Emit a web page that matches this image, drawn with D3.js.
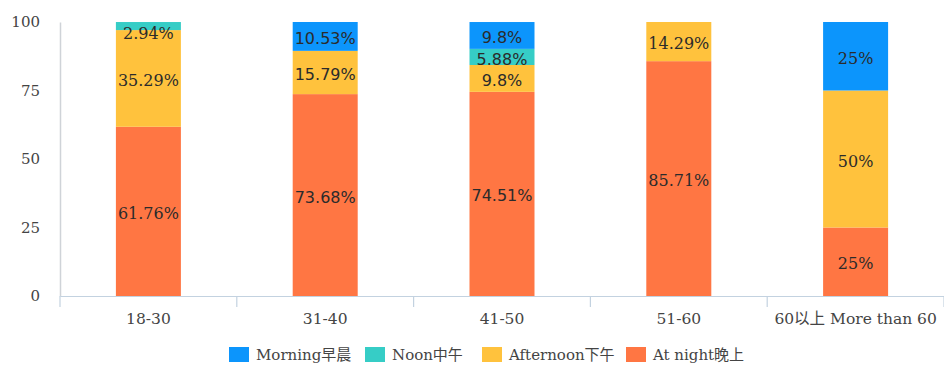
<!DOCTYPE html>
<html>
<head>
<meta charset="utf-8">
<script src="https://cdn.jsdelivr.net/npm/d3@7"></script>
<style>
  html, body { margin: 0; padding: 0; background: #fff; }
  svg { display: block; }
</style>
</head>
<body>
<svg id="chart" width="944" height="365"></svg>
<script>
// Age groups along the x axis
const categories = ["18-30", "31-40", "41-50", "51-60", "60以上 More than 60"];
// Share of respondents (%) for each time of day, per age group
const morning   = [0, 10.53, 9.8, 0, 25];
const noon      = [2.94, 0, 5.88, 0, 0];
const afternoon = [35.29, 15.79, 9.8, 14.29, 50];
const atNight   = [61.76, 73.68, 74.51, 85.71, 25];
const seriesNames = ["Morning早晨", "Noon中午", "Afternoon下午", "At night晚上"];
const yTicks = [0, 25, 50, 75, 100];

const colors = {
  "Morning早晨": "#0c95fc",
  "Noon中午": "#36cdc6",
  "Afternoon下午": "#ffc23d",
  "At night晚上": "#ff7643"
};

const serif = "'DejaVu Serif', 'Noto Sans CJK SC', serif";
const sans = "'DejaVu Sans', 'Noto Sans CJK SC', sans-serif";

const svg = d3.select("#chart");
const margin = { left: 60, right: 0, top: 22, bottom: 69 };
const W = 944, H = 365;
const plotBottom = H - margin.bottom;

const x = d3.scaleBand().domain(categories).range([margin.left, W - margin.right]).paddingInner(0).paddingOuter(0);
const y = d3.scaleLinear().domain([0, 100]).range([plotBottom, margin.top]);
const barW = 65;

// Build rows and stack them bottom-up: night, afternoon, noon, morning
const rows = categories.map((c, i) => ({
  cat: c,
  "Morning早晨": morning[i],
  "Noon中午": noon[i],
  "Afternoon下午": afternoon[i],
  "At night晚上": atNight[i]
}));
const stackKeys = ["At night晚上", "Afternoon下午", "Noon中午", "Morning早晨"];
const stacked = d3.stack().keys(stackKeys)(rows);

// Y axis
const yAxis = svg.append("g").attr("transform", `translate(${margin.left},0)`)
  .call(d3.axisLeft(y).tickValues(yTicks).tickSize(0).tickPadding(20));
yAxis.select(".domain").attr("stroke", "#cfd3d8").attr("stroke-width", 1.5);
yAxis.selectAll("text").attr("font-family", serif).attr("font-size", 15).attr("fill", "#444");

// Bars
const layers = svg.append("g").selectAll("g").data(stacked).join("g")
  .attr("fill", d => colors[d.key]);
layers.selectAll("rect").data(d => d.map(s => ({ s, key: d.key })))
  .join("rect")
  .attr("x", d => x(d.s.data.cat) + x.bandwidth() / 2 - barW / 2)
  .attr("width", barW)
  .attr("y", d => y(d.s[1]))
  .attr("height", d => Math.max(0, y(d.s[0]) - y(d.s[1])));

// X axis
const xAxis = svg.append("g").attr("transform", `translate(0,${plotBottom})`)
  .call(d3.axisBottom(x).tickSize(0).tickPadding(17));
xAxis.select(".domain").attr("stroke", "#c3d2e0").attr("stroke-width", 1.2);
xAxis.selectAll("text").attr("font-family", serif).attr("font-size", 15.5).attr("fill", "#444");
// Boundary tick marks between groups
const bounds = categories.map(c => x(c)).concat([W - margin.right]);
xAxis.selectAll(".bound").data(bounds).join("line")
  .attr("class", "bound")
  .attr("x1", d => d).attr("x2", d => d)
  .attr("y1", 0).attr("y2", 11)
  .attr("stroke", "#c3d2e0").attr("stroke-width", 1.2);

// Value labels in each segment (kept clear of the bar top for thin segments)
const sansGroups = new Set(["31-40", "41-50"]);
const labels = [];
stacked.forEach(layer => {
  layer.forEach(s => {
    const v = s.data[layer.key];
    if (v > 0) labels.push({ v, cat: s.data.cat, y0: s[0], y1: s[1] });
  });
});
svg.append("g").selectAll("text").data(labels).join("text")
  .attr("x", d => x(d.cat) + x.bandwidth() / 2)
  .attr("y", d => Math.max(y((d.y0 + d.y1) / 2), y(d.y1) + 9) + 2)
  .attr("text-anchor", "middle")
  .attr("dominant-baseline", "central")
  .attr("font-family", d => sansGroups.has(d.cat) ? sans : serif)
  .attr("font-size", 16)
  .attr("fill", "#2b2b2b")
  .text(d => d.v + "%");

// Legend
const legendX = [229, 365, 482, 626];
const legend = svg.append("g").selectAll("g").data(seriesNames).join("g")
  .attr("transform", (d, i) => `translate(${legendX[i]},347)`);
legend.append("rect").attr("width", 20).attr("height", 15).attr("fill", d => colors[d]);
legend.append("text").attr("x", 27).attr("y", 8)
  .attr("dominant-baseline", "central")
  .attr("font-family", serif).attr("font-size", 15).attr("fill", "#444")
  .text(d => d);
</script>
</body>
</html>
